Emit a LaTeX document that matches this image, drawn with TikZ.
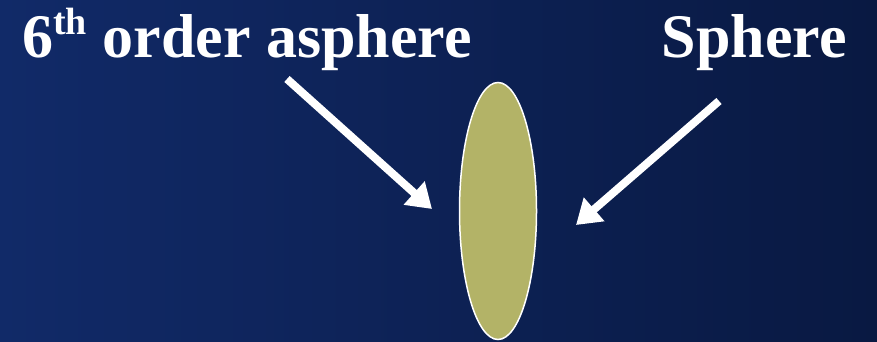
\documentclass[tikz,border=0pt]{standalone}
\usepackage{fontspec}
\setmainfont{Liberation Serif}
\usetikzlibrary{arrows.meta,shapes.geometric}
\definecolor{bgleft}{RGB}{17,42,104}
\definecolor{bgright}{RGB}{9,25,66}
\definecolor{lensfill}{RGB}{179,179,103}
\newcommand{\supth}[1]{\raisebox{23pt}{\fontsize{38}{40}\selectfont #1}}
\tikzset{
  title/.style={text=white, font=\bfseries\fontsize{62}{70}\selectfont, inner sep=0pt},
  pointer/.style={draw=white, line width=8pt, -{Triangle[length=24pt,width=30pt]}}
}
\begin{document}
\begin{tikzpicture}[x=1pt, y=-1pt]
% Background
\shade[left color=bgleft, right color=bgright] (0,0) rectangle (877,342);
\useasboundingbox (0,0) rectangle (877,342);

% Labels
\node[title, anchor=base west] (asph) at (22,58) {6\supth{th} order asphere};
\node[title, anchor=base east] (sph) at (847,58) {Sphere};

% Lens
\node[ellipse, draw=white, line width=1.5pt, fill=lensfill, inner sep=0pt,
      minimum width=77pt, minimum height=257pt] (lens) at (498,211) {};

% Arrows
\coordinate (asphtail) at (287,79);
\coordinate (asphtip) at (432,209);
\coordinate (sphtail) at (719,101);
\coordinate (sphtip) at (576,225);
\draw[pointer] (asphtail) -- (asphtip);
\draw[pointer] (sphtail) -- (sphtip);
\end{tikzpicture}
\end{document}
